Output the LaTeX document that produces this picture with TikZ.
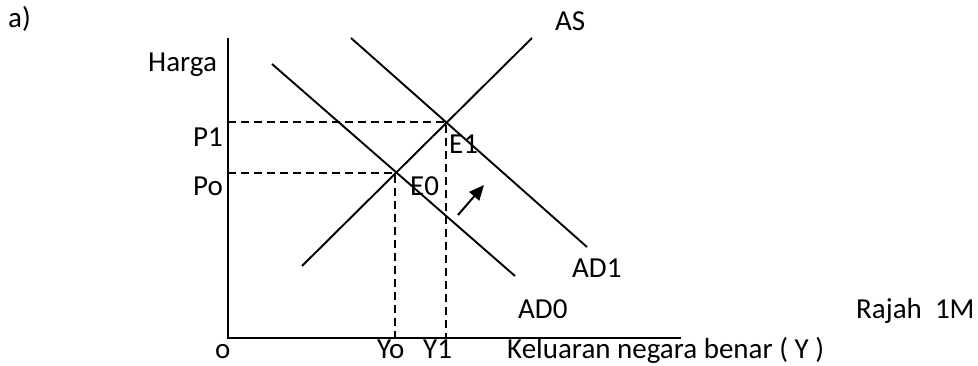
\documentclass[tikz,border=0pt]{standalone}
\usepackage{fontspec}
\setmainfont{Carlito}
\usetikzlibrary{arrows.meta}
\begin{document}
\begin{tikzpicture}[x=1pt,y=-1pt,
  lbl/.style={anchor=base west,inner sep=0pt,font=\fontsize{29}{35}\selectfont},
  axisline/.style={line width=2.2pt},
  curve/.style={line width=1.9pt},
  guide/.style={line width=1.8pt,dash pattern=on 8pt off 5pt},
  shiftarrow/.style={line width=2pt,-{Triangle[length=15pt,width=13pt]}}]
\useasboundingbox (0,0) rectangle (978,365);
% axes
\coordinate (top) at (228,38);
\coordinate (origin) at (228,338);
\coordinate (xend) at (681,338);
\draw[axisline] (top) -- (origin) -- (xend);
% curves
\coordinate (as0) at (302,266);
\coordinate (as1) at (532,38);
\coordinate (ad0a) at (272,64);
\coordinate (ad0b) at (515,276);
\coordinate (ad1a) at (351,38);
\coordinate (ad1b) at (587,247);
\draw[curve] (as0) -- (as1);
\draw[curve] (ad0a) -- (ad0b);
\draw[curve] (ad1a) -- (ad1b);
% equilibria
\coordinate (E1) at (446,122);
\coordinate (E0) at (395,173);
\coordinate (p1) at (228,122);
\coordinate (p0) at (228,173);
\coordinate (y1) at (446,338);
\coordinate (y0) at (395,338);
\draw[guide] (p1) -- (E1) -- (y1);
\draw[guide] (p0) -- (E0) -- (y0);
% shift arrow
\coordinate (arA) at (458,215);
\coordinate (arB) at (484,185);
\draw[shiftarrow] (arA) -- (arB);
% labels
\node[lbl] (la) at (8,27) {a)};
\node[lbl] (lharga) at (148,71) {Harga};
\node[lbl] (lp1) at (193,146) {P1};
\node[lbl] (lpo) at (193,195) {Po};
\node[lbl] (le1) at (449,153) {E1};
\node[lbl] (le0) at (410,195) {E0};
\node[lbl] (las) at (555,30) {AS};
\node[lbl] (lad1) at (572,277) {AD1};
\node[lbl] (lad0) at (518,318) {AD0};
\node[lbl] (lrajah) at (856,318) {Rajah\ \ 1M};
\node[lbl] (lo) at (215,358) {o};
\node[lbl] (lyo) at (377,358) {Yo};
\node[lbl] (ly1) at (423,358) {Y1};
\node[lbl] (lkel) at (507,358) {Keluaran negara benar ( Y )};
\end{tikzpicture}
\end{document}
